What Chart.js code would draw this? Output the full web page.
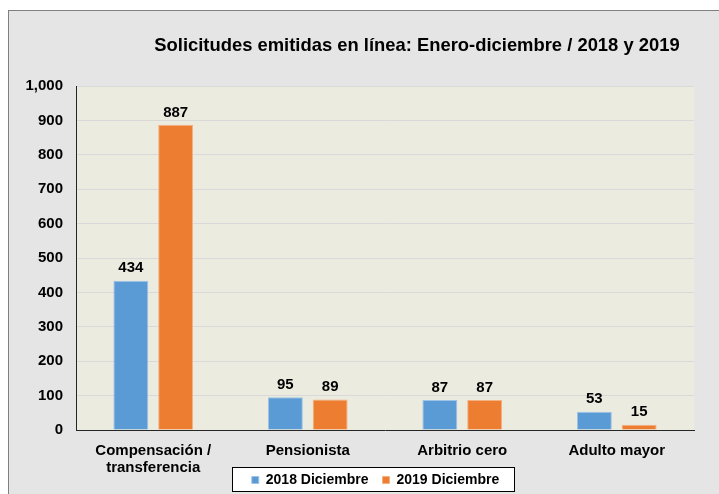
<!DOCTYPE html>
<html>
<head>
<meta charset="utf-8">
<script src="https://cdn.jsdelivr.net/npm/chart.js@4.4.0/dist/chart.umd.min.js"></script>
<style>
	body { margin: 0; background: #fff; overflow: hidden; }
	#frame {
		position: absolute; left: 8px; top: 10px; width: 733px; height: 501px;
		background: #e5e5e5; border-left: 1px solid #7f7f7f; border-top: 1px solid #7f7f7f;
	}
	canvas { display: block; }
</style>
</head>
<body>
<div id="frame"><canvas id="myChart" width="733" height="501"></canvas></div>
<script>
const categories = [['Compensación /', 'transferencia'], 'Pensionista', 'Arbitrio cero', 'Adulto mayor']
const values2018 = [434, 95, 87, 53]
const values2019 = [887, 89, 87, 15]
const seriesNames = ['2018 Diciembre', '2019 Diciembre']
const chartTitle = 'Solicitudes emitidas en línea: Enero-diciembre / 2018 y 2019'

const fontFamily = "'Liberation Sans', Arial, sans-serif"

// beige plot area + white legend box
const backdrop = {
	id: 'backdrop',
	afterLayout(chart) {
		// pull the legend up so it sits next to the two-line category label
		const lg = chart.legend
		lg.top -= 15
		lg.bottom -= 15
	},
	beforeDraw(chart) {
		const { ctx, chartArea: a } = chart
		ctx.save()
		ctx.fillStyle = '#ecebdf'
		ctx.fillRect(a.left, a.top, a.right - a.left, a.bottom - a.top)

		const boxes = chart.legend.legendHitBoxes
		if (boxes && boxes.length) {
			const first = boxes[0]
			const last = boxes[boxes.length - 1]
			const x0 = Math.round(first.left - 20)
			const x1 = Math.round(last.left + last.width + 15)
			const y0 = Math.round(first.top - 6)
			const y1 = Math.round(first.top + first.height + 4)
			ctx.fillStyle = '#fff'
			ctx.fillRect(x0, y0, x1 - x0, y1 - y0)
			ctx.strokeStyle = '#000'
			ctx.lineWidth = 1
			ctx.strokeRect(x0 + 0.5, y0 + 0.5, x1 - x0, y1 - y0)
		}
		ctx.restore()
	}
}

const titleText = {
	id: 'titleText',
	afterDraw(chart) {
		const { ctx, chartArea: a } = chart
		ctx.save()
		ctx.font = "bold 18.4px " + fontFamily
		ctx.fillStyle = '#000'
		ctx.textAlign = 'center'
		ctx.textBaseline = 'middle'
		ctx.fillText(chartTitle, (a.left + a.right) / 2 + 32, 35)
		ctx.restore()
	}
}

const barLabels = {
	id: 'barLabels',
	afterDatasetsDraw(chart) {
		const { ctx } = chart
		ctx.save()
		ctx.font = "bold 15px " + fontFamily
		ctx.fillStyle = '#000'
		ctx.textAlign = 'center'
		ctx.textBaseline = 'bottom'
		chart.data.datasets.forEach((ds, i) => {
			chart.getDatasetMeta(i).data.forEach((bar, j) => {
				ctx.fillText(ds.data[j], bar.x, bar.y - 5)
			})
		})
		ctx.restore()
	}
}

let cfg = {
	type: 'bar',
	data: {
		labels: categories,
		datasets: [{
			label: seriesNames[0],
			data: values2018,
			backgroundColor: '#5b9bd5',
			borderColor: '#9dc3e6',
			borderWidth: 1,
			categoryPercentage: 0.58,
			barPercentage: 0.78
		},
		{
			label: seriesNames[1],
			data: values2019,
			backgroundColor: '#ed7d31',
			borderColor: '#f4b183',
			borderWidth: 1,
			categoryPercentage: 0.58,
			barPercentage: 0.78
		}]
	},
	options: {
		responsive: false,
		animation: false,
		layout: { padding: { left: 0, right: 0, top: 75, bottom: 0 } },
		scales: {
			x: {
				afterFit(scale) { scale.height = 44 },
				grid: { display: false },
				border: { display: true, color: '#262626', width: 1 },
				ticks: {
					color: '#000',
					padding: 4,
					maxRotation: 0,
					font: { family: fontFamily, size: 15, weight: 'bold', lineHeight: 1.15 }
				}
			},
			y: {
				min: 0,
				max: 1000,
				afterFit(scale) { scale.width = 67 },
				grid: { color: '#d9d9d9', drawTicks: false },
				border: { display: true, color: '#262626', width: 1 },
				ticks: {
					stepSize: 100,
					color: '#000',
					padding: 13,
					font: { family: fontFamily, size: 15, weight: 'bold' },
					callback: (v) => v.toLocaleString('en-US')
				}
			},
			// empty right-hand strip, keeps the legend centred like the original
			yRight: {
				type: 'linear',
				position: 'right',
				afterFit(scale) { scale.width = 48 },
				grid: { display: false },
				border: { display: false },
				ticks: { display: false }
			}
		},
		plugins: {
			title: { display: false },
			tooltip: { enabled: false },
			legend: {
				position: 'bottom',
				labels: {
					color: '#000',
					boxWidth: 7,
					boxHeight: 7,
					padding: 14,
					font: { family: fontFamily, size: 14, weight: 'bold' }
				}
			}
		}
	},
	plugins: [backdrop, titleText, barLabels]
}
new Chart('myChart', cfg)
</script>
</body>
</html>
